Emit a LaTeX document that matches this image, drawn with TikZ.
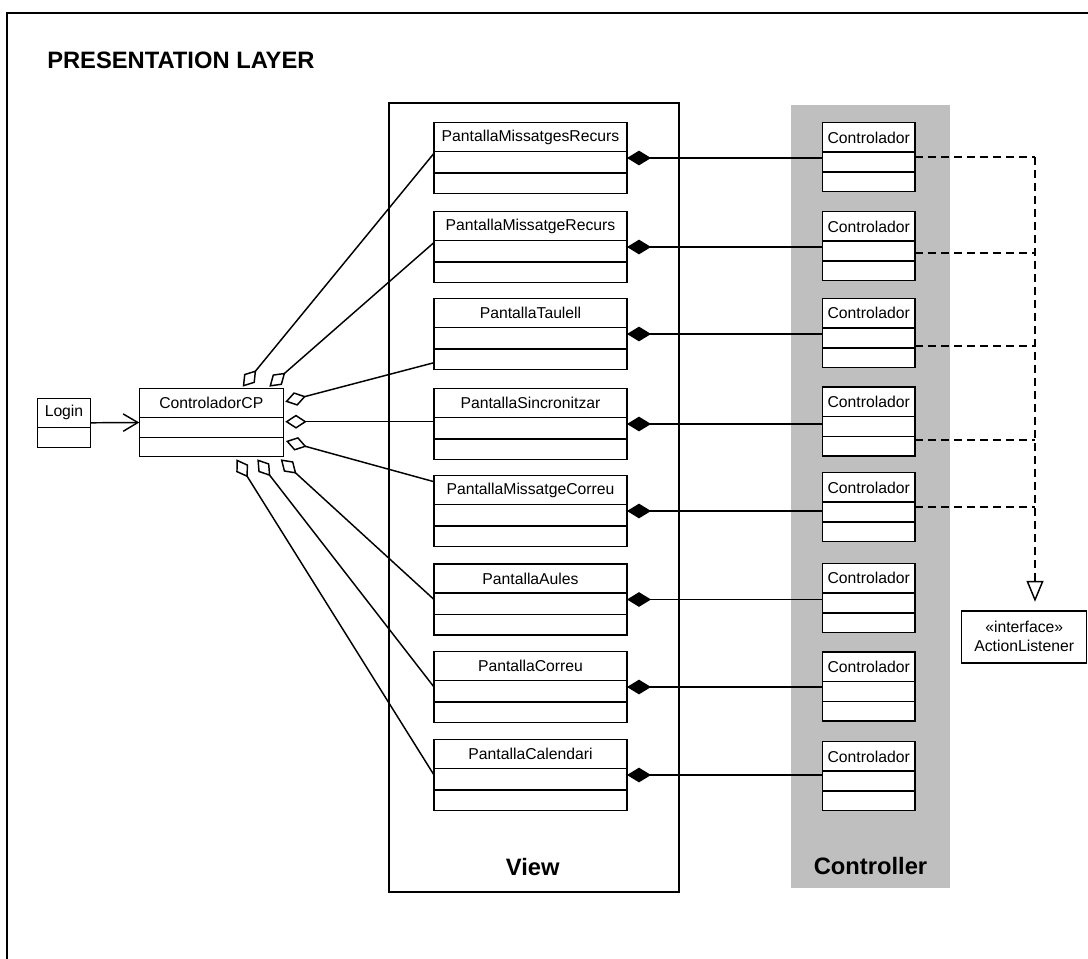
\documentclass[tikz,border=0pt]{standalone}
\usepackage{fontspec}
\setmainfont{Liberation Sans}
\usetikzlibrary{calc,arrows.meta}
\definecolor{ctrlgray}{RGB}{191,191,191}
\tikzset{
  classbox/.style={draw, fill=white, anchor=north west, inner sep=0pt, outer sep=0pt, line width=1.1pt},
  classname/.style={inner sep=0pt, font=\fontsize{11.8}{13}\selectfont},
  classline/.style={line width=1.1pt},
  comp/.style={line width=1.1pt, {Diamond[length=18pt,width=11pt]}-},
  aggr/.style={line width=1.1pt, {Diamond[open,length=16pt,width=10.5pt]}-},
  dep/.style={line width=1.1pt, dash pattern=on 6pt off 3.75pt},
  layertitle/.style={inner sep=0pt, font=\bfseries\fontsize{17.8}{20}\selectfont},
}
% name, left, top, width, h1, h2, h3, title
\newcommand\umlclass[8]{%
  \node[classbox, minimum width={#4*0.75pt}, minimum height={(#5+#6+#7)*0.75pt}] (#1) at (#2,#3) {};
  \node[classname] (#1-name) at ($(#1.north)+(0,#5/2)$) {#8};
  \draw[classline] ($(#1.north west)+(0,#5)$) -- ($(#1.north east)+(0,#5)$);
  \draw[classline] ($(#1.north west)+(0,#5+#6)$) -- ($(#1.north east)+(0,#5+#6)$);
}
\begin{document}
\begin{tikzpicture}[x=0.75pt,y=-0.75pt]
\useasboundingbox (0,0) rectangle (1088,959);
\clip (0,0) rectangle (1088,959);

% outer package frame
\draw[line width=1.7pt] (7,975) |- (1100,13);
\node[layertitle, anchor=west] (layer) at (47,60) {PRESENTATION LAYER};

% sub-packages
\node[fill=ctrlgray, anchor=north west, inner sep=0pt, minimum width={159*0.75pt}, minimum height={783*0.75pt}] (ctrlpkg) at (791,105) {};
\node[draw, anchor=north west, inner sep=0pt, line width=1.5pt, minimum width={290*0.75pt}, minimum height={788.5*0.75pt}] (viewpkg) at (387.7,102.5) {};
\node[layertitle] (viewlbl) at (532.7,867.5) {View};
\node[layertitle] (ctrllbl) at (870.5,865.7) {Controller};

% classes
\umlclass{login}{37.3}{398.3}{53.4}{29}{20}{0}{Login}
\umlclass{cp}{139.3}{388.3}{144}{29}{20.4}{19}{ControladorCP}

\umlclass{p1}{434}{122.5}{193}{29}{21.5}{20.5}{PantallaMissatgesRecurs}
\umlclass{p2}{434}{211.5}{193}{29}{21.5}{20.5}{PantallaMissatgeRecurs}
\umlclass{p3}{434}{298.5}{193}{29}{21.5}{20.5}{PantallaTaulell}
\umlclass{p4}{434}{388.5}{193}{29}{21.5}{20.5}{PantallaSincronitzar}
\umlclass{p5}{434}{475.5}{193}{29}{21.5}{20.5}{PantallaMissatgeCorreu}
\umlclass{p6}{434}{564}{193}{29}{21.5}{20.5}{PantallaAules}
\umlclass{p7}{434}{651.5}{193}{29}{21.5}{20.5}{PantallaCorreu}
\umlclass{p8}{434}{739.5}{193}{29}{21.5}{20.5}{PantallaCalendari}

\umlclass{c1}{822.3}{122.7}{92.7}{29.5}{20}{19.5}{Controlador}
\umlclass{c2}{822.3}{211.7}{92.7}{29.5}{20}{19.5}{Controlador}
\umlclass{c3}{822.3}{298.3}{92.7}{29.5}{20}{19.5}{Controlador}
\umlclass{c4}{822.3}{387}{92.7}{29.5}{20}{19.5}{Controlador}
\umlclass{c5}{822.3}{472.7}{92.7}{29.5}{20}{19.5}{Controlador}
\umlclass{c6}{822.3}{563.3}{92.7}{29.5}{20}{19.5}{Controlador}
\umlclass{c7}{822.3}{652}{92.7}{29.5}{20}{19.5}{Controlador}
\umlclass{c8}{822.3}{741.7}{92.7}{29.5}{20}{19.5}{Controlador}

\node[classbox, anchor=center, align=center, minimum width={125*0.75pt}, minimum height={52*0.75pt},
      font=\fontsize{11.8}{14.2}\selectfont] (iface) at (1024.2,636.8) {«interface»\\ActionListener};

% Login navigates to ControladorCP
\draw[line width=1.1pt, -{Straight Barb[length=11pt,width=13pt]}] (login.east) -- (cp.west);

% ControladorCP aggregates the screens
\draw[aggr] ($(cp.north west)+(103.4,-1.6)$) -- ($(p1.north west)+(0,30.8)$);
\draw[aggr] ($(cp.north west)+(130,-1.6)$) -- ($(p2.north west)+(0,31)$);
\draw[aggr] ($(cp.north east)+(2,13.4)$) -- ($(p3.north west)+(0,64.2)$);
\coordinate (a4) at ($(cp.north east)+(2,33.4)$);
\draw[aggr] (a4) -- (a4 -| p4.west);
\draw[aggr] ($(cp.north east)+(2.7,52.7)$) -- ($(p5.north west)+(0,6.2)$);
\draw[aggr] ($(cp.south west)+(97.2,2.6)$) -- (p8.west);
\draw[aggr] ($(cp.south west)+(118,2.6)$) -- (p7.west);
\draw[aggr] ($(cp.south west)+(141.4,2.6)$) -- (p6.west);

% each screen owns its controller
\foreach \i in {1,...,8}{
  \draw[comp] (p\i.east) -- (p\i.east -| c\i.west);
}

% controllers realise ActionListener
\coordinate (bus) at ($(c1.east)+(120,0)$);
\coordinate (tip) at ($(bus |- iface.north)+(0,-9)$);
\draw[dep] (c1.east) -- (bus);
\draw[dep] ($(c2.east)+(0,7)$) -- ($(c2.east -| bus)+(0,7)$);
\draw[dep] ($(c3.east)+(0,13)$) -- ($(c3.east -| bus)+(0,13)$);
\draw[dep] ($(c4.east)+(0,18.5)$) -- ($(c4.east -| bus)+(0,18.5)$);
\draw[dep] (c5.east) -- (c5.east -| bus);
\draw[dep, -{Triangle[open,length=15.75pt,width=12.75pt]}] (bus) -- (tip);
\end{tikzpicture}
\end{document}
